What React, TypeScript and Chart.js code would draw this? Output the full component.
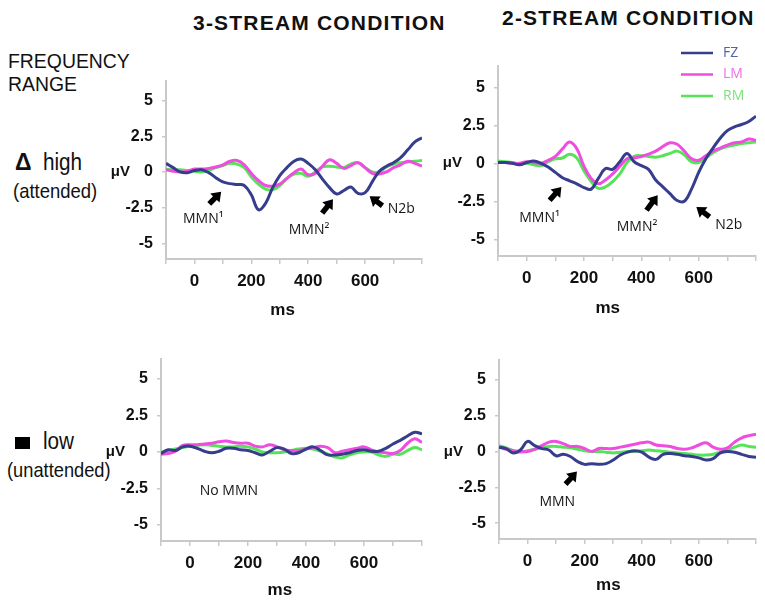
import React, { useEffect, useRef } from 'react';
import { Chart, registerables } from 'chart.js';

Chart.register(...registerables);

// ---------- DATA ----------
const timeMs = [-100, -75, -50, -25, 0, 25, 50, 75, 100, 125, 150, 175, 200, 225, 250, 275, 300, 325, 350, 375, 400, 425, 450, 475, 500, 525, 550, 575, 600, 625, 650, 675, 700, 725, 750, 775, 800];

const seriesNames = ['FZ', 'LM', 'RM'];

// 3-stream, high (attended)
const tlFZ = [0.6, 0.3, 0.0, -0.05, 0.1, 0.15, -0.05, -0.4, -0.7, -0.82, -0.88, -0.95, -1.6, -2.65, -2.2, -1.1, -0.25, 0.3, 0.75, 0.9, 0.6, 0.15, -0.5, -1.1, -1.55, -1.3, -1.05, -1.5, -1.45, -0.7, 0.05, 0.4, 0.65, 1.0, 1.55, 2.1, 2.4];
const tlLM = [0.15, 0.05, 0.0, 0.05, 0.2, 0.2, 0.25, 0.35, 0.5, 0.75, 0.8, 0.5, -0.1, -0.6, -0.95, -1.0, -0.85, -0.45, -0.05, 0.2, -0.2, -0.1, 0.4, 0.85, 0.6, 0.25, 0.45, 0.65, 0.3, -0.1, -0.15, 0.0, 0.3, 0.5, 0.75, 0.6, 0.4];
const tlRM = [0.2, 0.15, 0.15, 0.1, 0.05, 0.0, 0.1, 0.3, 0.45, 0.6, 0.55, 0.3, -0.35, -0.85, -1.2, -1.25, -0.95, -0.45, -0.15, -0.1, -0.3, 0.0, 0.35, 0.4, 0.35, 0.3, 0.55, 0.65, 0.3, 0.0, 0.0, 0.35, 0.55, 0.65, 0.7, 0.75, 0.8];

// 2-stream, high (attended)
const trFZ = [0.05, 0.05, 0.0, -0.1, 0.05, 0.15, 0.0, -0.25, -0.6, -0.95, -1.15, -1.35, -1.6, -1.7, -1.0, -0.35, -0.4, 0.1, 0.65, 0.1, -0.15, -0.4, -1.1, -1.55, -2.0, -2.45, -2.5, -1.7, -0.6, 0.3, 1.0, 1.65, 2.15, 2.4, 2.55, 2.75, 3.1];
const trLM = [0.05, 0.05, 0.0, 0.0, 0.1, 0.05, 0.0, 0.2, 0.45, 0.95, 1.4, 0.95, -0.2, -1.0, -1.35, -1.1, -0.7, -0.2, 0.3, 0.35, 0.45, 0.6, 0.8, 1.1, 1.35, 1.25, 0.8, 0.3, 0.2, 0.5, 0.8, 1.0, 1.2, 1.35, 1.4, 1.6, 1.5];
const trRM = [0.15, 0.1, 0.05, -0.05, 0.0, -0.1, -0.15, 0.1, 0.3, 0.35, 0.6, 0.35, -0.5, -1.2, -1.65, -1.55, -1.2, -0.7, 0.05, 0.45, 0.5, 0.45, 0.4, 0.5, 0.65, 0.8, 0.55, 0.1, 0.05, 0.35, 0.7, 0.95, 1.1, 1.2, 1.3, 1.35, 1.4];

// 3-stream, low (unattended)
const blFZ = [-0.1, 0.15, 0.1, 0.35, 0.4, 0.25, 0.05, -0.05, 0.05, 0.25, 0.25, 0.15, 0.1, -0.05, -0.2, 0.05, 0.3, 0.2, -0.1, -0.05, 0.2, 0.35, 0.1, -0.2, -0.2, -0.15, -0.05, 0.1, 0.15, 0.05, 0.05, 0.25, 0.55, 0.8, 1.1, 1.35, 1.25];
const blLM = [-0.15, -0.1, 0.05, 0.45, 0.5, 0.5, 0.55, 0.6, 0.7, 0.75, 0.65, 0.6, 0.6, 0.4, 0.35, 0.5, 0.35, 0.15, 0.1, 0.1, 0.2, 0.3, 0.4, 0.3, -0.05, 0.05, 0.15, 0.25, 0.35, 0.15, 0.0, -0.05, -0.1, 0.1, 0.6, 0.9, 0.65];
const blRM = [0.0, 0.1, 0.2, 0.3, 0.4, 0.45, 0.5, 0.45, 0.4, 0.35, 0.35, 0.4, 0.35, 0.2, 0.0, -0.05, -0.05, 0.0, 0.1, 0.2, 0.25, 0.2, 0.05, -0.15, -0.35, -0.4, -0.2, -0.05, 0.0, 0.0, -0.2, -0.3, -0.15, -0.15, 0.1, 0.3, 0.15];

// 2-stream, low (unattended)
const brFZ = [0.3, 0.2, -0.1, 0.1, 0.7, 0.4, 0.2, 0.1, -0.3, -0.2, -0.35, -0.7, -0.9, -0.85, -0.9, -0.85, -0.6, -0.25, -0.05, 0.05, -0.05, -0.4, -0.55, -0.2, -0.15, -0.2, -0.3, -0.35, -0.45, -0.6, -0.5, -0.1, 0.0, -0.05, -0.2, -0.35, -0.4];
const brLM = [0.3, 0.15, 0.05, 0.0, 0.0, 0.15, 0.4, 0.65, 0.7, 0.55, 0.35, 0.35, 0.2, 0.0, 0.2, 0.2, 0.2, 0.3, 0.4, 0.5, 0.6, 0.65, 0.45, 0.4, 0.35, 0.2, 0.15, 0.25, 0.45, 0.6, 0.3, 0.15, 0.25, 0.65, 0.95, 1.1, 1.2];
const brRM = [0.4, 0.25, 0.05, -0.05, 0.05, 0.15, 0.25, 0.35, 0.35, 0.3, 0.25, 0.15, 0.05, 0.0, 0.0, -0.05, -0.1, -0.05, 0.0, 0.0, 0.05, 0.1, 0.05, 0.0, -0.05, -0.1, -0.15, -0.2, -0.25, -0.25, -0.2, -0.05, 0.1, 0.3, 0.45, 0.35, 0.3];

// axis ticks
const yTickValues = [-5, -2.5, 0, 2.5, 5];
const xTickValues = [-100, 0, 100, 200, 300, 400, 500, 600, 700, 800];
const xLabelValues = [0, 200, 400, 600];
const yMin = -6.1;
const yMax = 6.4;
const xMin = -100;
const xMax = 800;

// annotations (data coordinates: ms, µV)
type Arrow = { tail: [number, number]; head: [number, number] };
type Note = { text: string; x: number; y: number };

const tlArrows: Arrow[] = [
  { tail: [52, -2.24], head: [94, -1.38] },
  { tail: [449, -2.89], head: [487, -1.91] },
  { tail: [661, -2.37], head: [616, -1.71] },
];
const tlNotes: Note[] = [
  { text: 'MMN¹', x: 31, y: -3.29 },
  { text: 'MMN²', x: 403, y: -4.08 },
  { text: 'N2b', x: 727, y: -2.57 },
];
const trArrows: Arrow[] = [
  { tail: [80, -2.43], head: [121, -1.56] },
  { tail: [418, -3.09], head: [457, -2.1] },
  { tail: [638, -3.53], head: [592, -2.88] },
];
const trNotes: Note[] = [
  { text: 'MMN¹', x: 45, y: -3.62 },
  { text: 'MMN²', x: 385, y: -4.21 },
  { text: 'N2b', x: 705, y: -4.08 },
];
const blArrows: Arrow[] = [];
const blNotes: Note[] = [{ text: 'No MMN', x: 134, y: -2.69 }];
const brArrows: Arrow[] = [{ tail: [133, -2.28], head: [173, -1.4] }];
const brNotes: Note[] = [{ text: 'MMN', x: 104, y: -3.49 }];

// ---------- STYLE / LAYOUT ----------
const seriesColors = ['#363d8d', '#ee4de0', '#55e455'];
const legendTextColors = ['#5660a8', '#ee6fe3', '#7ae27a'];
const AXIS_GRAY = '#c9c9c9';
const FONT = '"Liberation Sans", Arial, Helvetica, sans-serif';
const NOTE_FONT = '"Open Sans", "Liberation Sans", sans-serif';
const Y_AXIS_W = 80;
const X_AXIS_H = 65;
const PAD_R = 8;

type PanelCfg = {
  key: string;
  area: { left: number; top: number; right: number; bottom: number };
  padT: number;
  fz: number[];
  lm: number[];
  rm: number[];
  arrows: Arrow[];
  notes: Note[];
  msAt: number;
  msDy: number;
  legend: boolean;
};

const panels: PanelCfg[] = [
  { key: 'tl', area: { left: 166, top: 70, right: 422, bottom: 259 }, padT: 8, fz: tlFZ, lm: tlLM, rm: tlRM, arrows: tlArrows, notes: tlNotes, msAt: 310, msDy: 51, legend: false },
  { key: 'tr', area: { left: 498, top: 66, right: 756, bottom: 256 }, padT: 28, fz: trFZ, lm: trLM, rm: trRM, arrows: trArrows, notes: trNotes, msAt: 283, msDy: 52, legend: true },
  { key: 'bl', area: { left: 161, top: 348, right: 422, bottom: 541 }, padT: 8, fz: blFZ, lm: blLM, rm: blRM, arrows: blArrows, notes: blNotes, msAt: 310, msDy: 49, legend: false },
  { key: 'br', area: { left: 499, top: 349, right: 756, bottom: 539 }, padT: 8, fz: brFZ, lm: brLM, rm: brRM, arrows: brArrows, notes: brNotes, msAt: 283, msDy: 46, legend: false },
];

function drawArrow(ctx: CanvasRenderingContext2D, tx: number, ty: number, hx: number, hy: number) {
  const dx = hx - tx;
  const dy = hy - ty;
  const L = Math.hypot(dx, dy) || 1;
  const ux = dx / L;
  const uy = dy / L;
  const nx = -uy;
  const ny = ux;
  const headLen = 9;
  const hw = 6.5;
  const sw = 2.7;
  const sx = hx - ux * headLen;
  const sy = hy - uy * headLen;
  ctx.beginPath();
  ctx.moveTo(tx + nx * sw, ty + ny * sw);
  ctx.lineTo(sx + nx * sw, sy + ny * sw);
  ctx.lineTo(sx + nx * hw, sy + ny * hw);
  ctx.lineTo(hx, hy);
  ctx.lineTo(sx - nx * hw, sy - ny * hw);
  ctx.lineTo(sx - nx * sw, sy - ny * sw);
  ctx.lineTo(tx - nx * sw, ty - ny * sw);
  ctx.closePath();
  ctx.fillStyle = '#000';
  ctx.fill();
}

function makeOverlay(cfg: PanelCfg) {
  return {
    id: 'overlay_' + cfg.key,
    afterDatasetsDraw(chart: any) {
      const { ctx, chartArea } = chart;
      const x = chart.scales.x;
      const y = chart.scales.y;
      ctx.save();
      cfg.arrows.forEach((a) => {
        drawArrow(ctx, x.getPixelForValue(a.tail[0]), y.getPixelForValue(a.tail[1]), x.getPixelForValue(a.head[0]), y.getPixelForValue(a.head[1]));
      });
      ctx.fillStyle = '#151515';
      ctx.font = '14px ' + NOTE_FONT;
      ctx.textAlign = 'center';
      ctx.textBaseline = 'middle';
      cfg.notes.forEach((n) => {
        ctx.fillText(n.text, x.getPixelForValue(n.x), y.getPixelForValue(n.y));
      });
      // µV label
      ctx.fillStyle = '#111';
      ctx.font = 'bold 15px ' + FONT;
      ctx.textAlign = 'right';
      ctx.fillText('μV', chartArea.left - 36, y.getPixelForValue(0));
      // ms label
      ctx.font = 'bold 17px ' + FONT;
      ctx.textAlign = 'center';
      ctx.fillText('ms', x.getPixelForValue(cfg.msAt), chartArea.bottom + cfg.msDy);
      // legend
      if (cfg.legend) {
        ctx.font = '14px ' + NOTE_FONT;
        ctx.textAlign = 'left';
        seriesNames.forEach((name, i) => {
          const ly = chartArea.top - 13 + i * 21.5;
          ctx.strokeStyle = seriesColors[i];
          ctx.lineWidth = 2.5;
          ctx.beginPath();
          ctx.moveTo(chartArea.right - 75, ly);
          ctx.lineTo(chartArea.right - 43, ly);
          ctx.stroke();
          ctx.fillStyle = legendTextColors[i];
          ctx.fillText(name, chartArea.right - 33, ly);
        });
      }
      ctx.restore();
    },
  };
}

function Panel({ cfg }: { cfg: PanelCfg }) {
  const ref = useRef<HTMLCanvasElement | null>(null);
  const left = cfg.area.left - Y_AXIS_W;
  const top = cfg.area.top - cfg.padT;
  const width = cfg.area.right + PAD_R - left;
  const height = cfg.area.bottom + X_AXIS_H - top;

  useEffect(() => {
    if (!ref.current) return;
    const seriesData = [cfg.fz, cfg.lm, cfg.rm];
    const chart = new Chart(ref.current, {
      type: 'line',
      data: {
        datasets: seriesNames.map((name, i) => ({
          label: name,
          data: timeMs.map((t, k) => ({ x: t, y: seriesData[i][k] })),
          borderColor: seriesColors[i],
          backgroundColor: seriesColors[i],
          borderWidth: 3,
          pointRadius: 0,
          tension: 0.4,
          fill: false,
        })),
      },
      options: {
        responsive: false,
        animation: false,
        devicePixelRatio: 1,
        layout: { padding: { top: cfg.padT, right: PAD_R, left: 0, bottom: 0 } },
        plugins: {
          legend: { display: false },
          tooltip: { enabled: false },
          title: { display: false },
        },
        scales: {
          x: {
            type: 'linear',
            min: xMin,
            max: xMax,
            afterBuildTicks: (s: any) => {
              s.ticks = xTickValues.map((v) => ({ value: v }));
            },
            afterFit: (s: any) => {
              s.height = X_AXIS_H;
            },
            ticks: {
              autoSkip: false,
              maxRotation: 0,
              padding: 7,
              color: '#111',
              font: { family: FONT, size: 17, weight: 'bold' },
              callback: (v: any) => (xLabelValues.includes(Number(v)) ? String(v) : ''),
            },
            grid: { drawOnChartArea: false, drawTicks: true, tickLength: 5, color: AXIS_GRAY, lineWidth: 1.5 },
            border: { display: true, color: AXIS_GRAY, width: 2 },
          },
          y: {
            type: 'linear',
            min: yMin,
            max: yMax,
            afterBuildTicks: (s: any) => {
              s.ticks = yTickValues.map((v) => ({ value: v }));
            },
            afterFit: (s: any) => {
              s.width = Y_AXIS_W;
            },
            ticks: {
              padding: 9,
              color: '#111',
              font: { family: FONT, size: 16, weight: 'bold' },
              callback: (v: any) => String(v),
            },
            grid: { drawOnChartArea: false, drawTicks: true, tickLength: 4, color: AXIS_GRAY, lineWidth: 1.5 },
            border: { display: true, color: AXIS_GRAY, width: 2 },
          },
        },
      },
      plugins: [makeOverlay(cfg)],
    } as any);
    return () => chart.destroy();
  }, []);

  return (
    <canvas
      ref={ref}
      width={width}
      height={height}
      style={{ position: 'absolute', left, top, width, height }}
    />
  );
}

function Txt(props: { text: string; left: number; baseline: number; size: number; bold?: boolean; sx?: number; ls?: number }) {
  const { text, left, baseline, size, bold, sx = 1, ls = 0 } = props;
  return (
    <div
      style={{
        position: 'absolute',
        left,
        top: baseline - 0.905 * size,
        fontFamily: FONT,
        fontSize: size,
        fontWeight: bold ? 'bold' : 'normal',
        lineHeight: 'normal',
        whiteSpace: 'nowrap',
        letterSpacing: ls,
        transform: `scaleX(${sx})`,
        transformOrigin: 'left top',
        color: '#111',
      }}
    >
      {text}
    </div>
  );
}

export default function App() {
  return (
    <div style={{ position: 'absolute', left: 0, top: 0, width: 765, height: 605, background: '#fff', overflow: 'hidden' }}>
      <Txt text="3-STREAM CONDITION" left={193} baseline={30} size={21} bold ls={1.2} />
      <Txt text="2-STREAM CONDITION" left={502} baseline={25} size={21} bold ls={1.2} />
      <Txt text="FREQUENCY" left={8} baseline={68} size={20} sx={0.97} />
      <Txt text="RANGE" left={8} baseline={91} size={20} sx={0.97} />
      <Txt text="Δ" left={15} baseline={170} size={23} bold />
      <Txt text="high" left={43} baseline={170} size={23} sx={0.9} />
      <Txt text="(attended)" left={13} baseline={198} size={21} sx={0.88} />
      <div style={{ position: 'absolute', left: 15, top: 437, width: 15, height: 12, background: '#000' }} />
      <Txt text="low" left={43} baseline={449} size={23} sx={0.9} />
      <Txt text="(unattended)" left={7} baseline={477} size={21} sx={0.87} />
      {panels.map((p) => (
        <Panel key={p.key} cfg={p} />
      ))}
    </div>
  );
}
